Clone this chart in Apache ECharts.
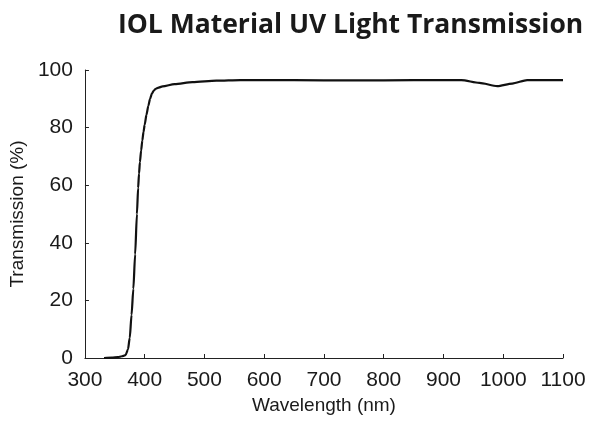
<!DOCTYPE html>
<html><head><meta charset="utf-8">
<script src="https://cdn.jsdelivr.net/npm/echarts@6/dist/echarts.min.js"></script>
<style>html,body{margin:0;padding:0;background:#fff}#c{width:596px;height:423px}</style>
</head><body><div id="c"></div>
<script>
var titleText = 'IOL Material UV Light Transmission';
var xName = 'Wavelength (nm)';
var yName = 'Transmission (%)';
var wavelength = [332, 345, 355, 362, 368, 372, 375, 378, 381, 384, 387, 389, 390.5, 392, 394, 396, 398, 400, 403, 406, 409, 412, 415, 418, 422, 430, 450, 480, 520, 560, 600, 700, 800, 900, 930, 960, 990, 1015, 1040, 1100];
var transmission = [0, 0.1, 0.3, 0.6, 1, 3, 7, 15, 24, 36, 50, 59, 64, 68, 72, 75.5, 78.5, 81, 84.5, 87.5, 90, 91.8, 92.8, 93.4, 93.8, 94.3, 95.1, 95.8, 96.3, 96.5, 96.5, 96.4, 96.4, 96.5, 96.5, 95.5, 94.4, 95.3, 96.5, 96.5];
var xTicks = {min: 300, max: 1100, step: 100};
var yTicks = {min: 0, max: 100, step: 20};

var chart = echarts.init(document.getElementById('c'), null, {renderer: 'canvas'});
var font = 'Liberation Sans, Arial, sans-serif';
chart.setOption({
  animation: false,
  backgroundColor: '#fff',
  title: {
    text: titleText, left: 113, top: 7,
    textStyle: {fontSize: 26.5, fontWeight: 'bold', fontFamily: 'Open Sans, sans-serif', color: '#1a1a1a'}
  },
  grid: {left: 83, right: 33, top: 70, bottom: 65},
  xAxis: {
    type: 'value', min: xTicks.min, max: xTicks.max, interval: xTicks.step,
    name: xName, nameLocation: 'middle', nameGap: 35,
    nameTextStyle: {fontSize: 19, fontFamily: font, color: '#1a1a1a'},
    axisLine: {lineStyle: {color: '#222', width: 1}},
    axisTick: {inside: true, length: 4, lineStyle: {color: '#222'}},
    axisLabel: {fontSize: 21, fontFamily: font, color: '#1a1a1a', margin: 12,
      formatter: function (v) { return String(v); }},
    splitLine: {show: false}
  },
  yAxis: {
    type: 'value', min: yTicks.min, max: yTicks.max, interval: yTicks.step,
    name: yName, nameLocation: 'middle', nameGap: 52, nameRotate: 90,
    nameTextStyle: {fontSize: 19, fontFamily: font, color: '#1a1a1a'},
    axisLine: {show: true, lineStyle: {color: '#222', width: 1}},
    axisTick: {show: true, inside: true, length: 4, lineStyle: {color: '#222'}},
    axisLabel: {fontSize: 21, fontFamily: font, color: '#1a1a1a', margin: 12},
    splitLine: {show: false}
  },
  series: [{
    type: 'line',
    data: wavelength.map(function (w, i) { return [w, transmission[i]]; }),
    showSymbol: false, smooth: 0.25, smoothMonotone: 'x',
    lineStyle: {color: '#111', width: 2.2}
  }]
});
</script></body></html>
